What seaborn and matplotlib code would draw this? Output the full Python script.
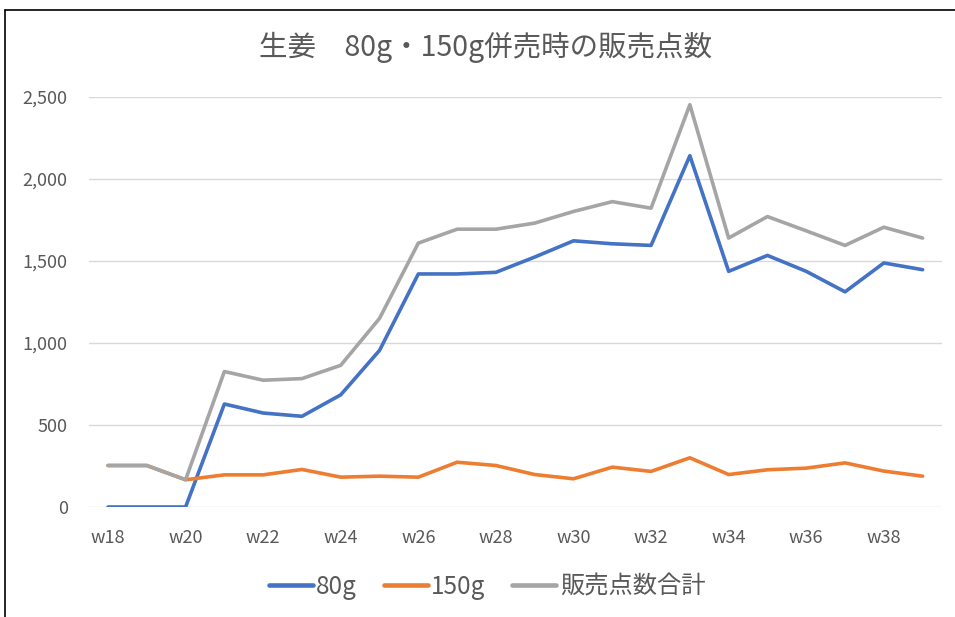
import matplotlib
matplotlib.use("Agg")
import matplotlib.pyplot as plt
from matplotlib.lines import Line2D
import seaborn as sns
import pandas as pd

weeks = [f"w{n}" for n in range(18, 40)]
sales_80g = [0, 0, 0, 628, 573, 553, 684, 955, 1421, 1421, 1431,
             1524, 1623, 1605, 1595, 2142, 1437, 1534, 1437, 1312, 1488, 1447]
sales_150g = [253, 253, 166, 196, 196, 229, 182, 188, 182, 273, 253,
              198, 172, 243, 217, 300, 198, 227, 237, 269, 219, 188]
sales_total = [253, 253, 166, 826, 773, 783, 864, 1150, 1609, 1694, 1694,
               1731, 1802, 1862, 1822, 2453, 1640, 1771, 1684, 1595, 1706, 1640]
series_names = ["80g", "150g", "販売点数合計"]
y_ticks = [0, 500, 1000, 1500, 2000, 2500]
title = "生姜　80g・150g併売時の販売点数"

colors = ["#4472C4", "#ED7D31", "#A5A5A5"]
text_color = "#595959"

sns.set_theme(style="white")
plt.rcParams["font.family"] = ["Noto Sans CJK JP", "DejaVu Sans"]

df = pd.DataFrame({
    "week": weeks * 3,
    "value": sales_80g + sales_150g + sales_total,
    "series": [series_names[0]] * len(weeks) + [series_names[1]] * len(weeks)
              + [series_names[2]] * len(weeks),
})

fig = plt.figure(figsize=(9.55, 6.17), dpi=100)
ax = fig.add_axes([88.6 / 955, 1 - 507 / 617, (942 - 88.6) / 955, (507 - 97) / 617])

sns.lineplot(data=df, x="week", y="value", hue="series", hue_order=series_names,
             palette=colors, linewidth=2.6, ax=ax, legend=False, sort=False)

ax.set_xlim(-0.5, len(weeks) - 0.5)
ax.set_ylim(0, 2500)
ax.set_yticks(y_ticks)
ax.set_yticklabels([f"{v:,}" for v in y_ticks])
ax.set_xticks(range(0, len(weeks), 2))
ax.set_xticklabels(weeks[::2])
ax.set_xlabel("")
ax.set_ylabel("")
ax.grid(axis="y", color="#D9D9D9", linewidth=1.0)
ax.set_axisbelow(True)
for s in ax.spines.values():
    s.set_visible(False)
ax.tick_params(axis="both", length=0, labelsize=13, labelcolor=text_color)
ax.tick_params(axis="y", pad=15)
ax.tick_params(axis="x", pad=16)

fig.text(486 / 955, 1 - 47 / 617, title, ha="center", va="center",
         fontsize=20.5, color=text_color)

handles = [Line2D([0], [0], color=c, linewidth=3.3) for c in colors]
fig.legend(handles, series_names, loc="center", bbox_to_anchor=(487 / 955, 1 - 587 / 617),
           ncol=3, frameon=False, fontsize=17.5, handlelength=1.8,
           handletextpad=0.15, columnspacing=1.1, labelcolor=text_color)

fig.add_artist(Line2D([5 / 955, 1], [1 - 10 / 617, 1 - 10 / 617],
                      transform=fig.transFigure, color="black", linewidth=1.2))
fig.add_artist(Line2D([5 / 955, 5 / 955], [0, 1 - 10 / 617],
                      transform=fig.transFigure, color="black", linewidth=1.2))

fig.savefig("out.png", dpi=100, facecolor="white")
